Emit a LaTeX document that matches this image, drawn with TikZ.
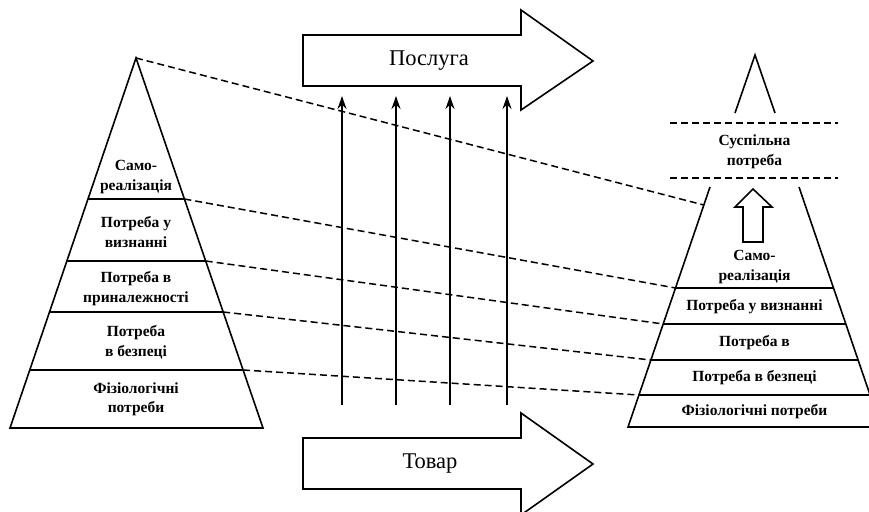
\documentclass[tikz,border=0pt]{standalone}
\usepackage{fontspec}
\setmainfont{Liberation Serif}
\usetikzlibrary{arrows.meta}
\begin{document}
\begin{tikzpicture}[x=1pt,y=-1pt,line join=miter,
  solidln/.style={line width=1.6pt},
  dashln/.style={line width=1.5pt,dash pattern=on 7pt off 4pt},
  lbl/.style={font=\fontsize{15.5}{19.5}\selectfont\bfseries,align=center,inner sep=0pt},
  big/.style={font=\fontsize{22.5}{25}\selectfont,inner sep=0pt},
  uparr/.style={line width=2.2pt,-{Stealth[length=13pt,width=9pt]}}]
\useasboundingbox (0,0) rectangle (869,511);
% ---------- left pyramid ----------
\coordinate (LA) at (136,58);
\coordinate (LBL) at (10,428);
\coordinate (LBR) at (263,428);
\coordinate (L1l) at (88.0,199);  \coordinate (L1r) at (184.4,199);
\coordinate (L2l) at (66.9,261);  \coordinate (L2r) at (205.7,261);
\coordinate (L3l) at (49.5,312);  \coordinate (L3r) at (223.2,312);
\coordinate (L4l) at (29.8,370);  \coordinate (L4r) at (243.1,370);
\draw[solidln] (LA) -- (LBL) -- (LBR) -- cycle;
\draw[solidln] (L1l) -- (L1r) (L2l) -- (L2r) (L3l) -- (L3r) (L4l) -- (L4r);
\node[lbl] (lt1) at (136,177) {Само-\\реалізація};
\node[lbl] (lt2) at (136,232) {Потреба у\\визнанні};
\node[lbl] (lt3) at (136,288.5) {Потреба в\\приналежності};
\node[lbl] (lt4) at (136,342.5) {Потреба\\в безпеці};
\node[lbl] (lt5) at (136,399.5) {Фізіологічні\\потреби};
% ---------- right pyramid ----------
\coordinate (RTl) at (710,187);
\coordinate (RTr) at (799,187);
\coordinate (RBl) at (628,427);
\coordinate (RBr) at (881,427);
\coordinate (R0)  at (703.8,205);
\coordinate (R1l) at (675.5,288); \coordinate (R1r) at (833.5,288);
\coordinate (R2l) at (663.2,324); \coordinate (R2r) at (845.8,324);
\coordinate (R3l) at (650.9,360); \coordinate (R3r) at (858.1,360);
\coordinate (R4l) at (638.9,395); \coordinate (R4r) at (870.1,395);
\draw[solidln] (RTl) -- (RBl) -- (RBr) -- (RTr);
\draw[solidln] (R1l) -- (R1r) (R2l) -- (R2r) (R3l) -- (R3r) (R4l) -- (R4r);
\draw[solidln] (735,113) -- (755,55) -- (775,113);
\draw[dashln] (670,123) -- (838,123);
\draw[dashln] (670,178) -- (838,178);
\node[lbl] (st) at (754.5,152) {Суспільна\\потреба};
\draw[solidln] (753,189) -- (772,207) -- (763,207) -- (763,242) -- (743,242) -- (743,207) -- (735,207) -- cycle;
\node[lbl] (rt1) at (754.5,267) {Само-\\реалізація};
\node[lbl] (rt2) at (754.5,307) {Потреба у визнанні};
\node[lbl] (rt3) at (754.5,343) {Потреба в};
\node[lbl] (rt4) at (754.5,378) {Потреба в безпеці};
\node[lbl] (rt5) at (754.5,412) {Фізіологічні потреби};
% ---------- big arrows ----------
\draw[solidln] (303,35) -- (521,35) -- (521,10) -- (593,61) -- (521,110) -- (521,86) -- (303,86) -- cycle;
\node[big] (srv) at (429,61) {Послуга};
\draw[solidln] (303,438) -- (521,438) -- (521,413) -- (593,464) -- (521,515) -- (521,489) -- (303,489) -- cycle;
\node[big] (gds) at (430,464) {Товар};
% ---------- vertical arrows ----------
\foreach \i/\x in {1/342,2/396,3/450,4/507}{
  \coordinate (vb\i) at (\x,405);
  \coordinate (vt\i) at (\x,96);
  \draw[uparr] (vb\i) -- (vt\i);
}
% ---------- dashed connectors ----------
\draw[dashln] (LA) -- (R0);
\draw[dashln] (L1r) -- (R1l);
\draw[dashln] (L2r) -- (R2l);
\draw[dashln] (L3r) -- (R3l);
\draw[dashln] (L4r) -- (R4l);
\end{tikzpicture}
\end{document}
